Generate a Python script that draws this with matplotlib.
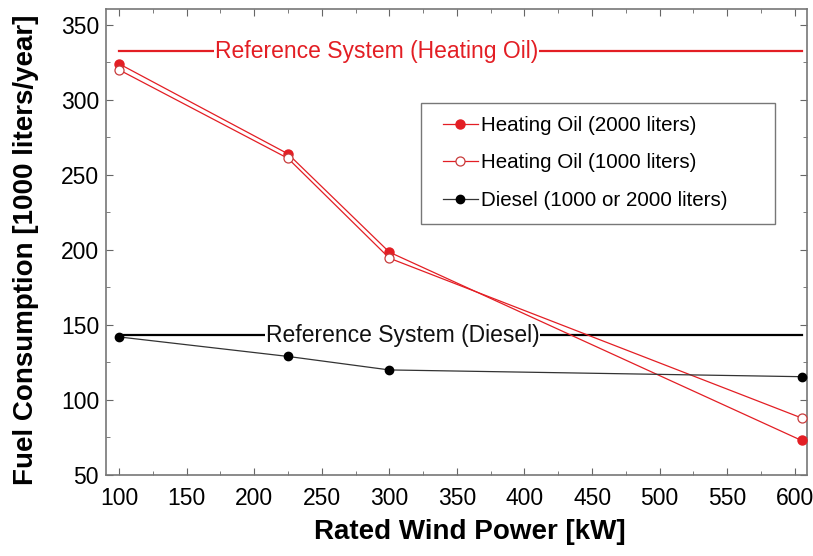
import matplotlib
matplotlib.use("Agg")
import matplotlib.pyplot as plt
from matplotlib.ticker import MultipleLocator
from matplotlib.patches import Rectangle

plt.rcParams['font.family'] = ['Liberation Sans', 'DejaVu Sans']

# data
power = [100, 225, 300, 605]
oil_2000 = [324, 264, 198.5, 73]
oil_1000 = [320, 261, 194.5, 88]
diesel = [142, 129, 120, 115.5]

ref_x = [100, 605]
ref_oil = 332.5
ref_diesel = 143

red = '#e31e24'

fig = plt.figure(figsize=(8.13, 5.56), dpi=100)
ax = fig.add_axes([0.1304, 0.1457, 0.8622, 0.8381])

# reference lines with text sitting on them
ax.plot(ref_x, [ref_oil, ref_oil], color=red, lw=1.6, zorder=2)
ax.plot(ref_x, [ref_diesel, ref_diesel], color='black', lw=1.6, zorder=2)

ax.plot(power, oil_2000, color=red, lw=0.9, marker='o', ms=6.5,
        mfc=red, mec=red, label='Heating Oil (2000 liters)', zorder=3)
ax.plot(power, oil_1000, color=red, lw=0.9, marker='o', ms=6.5,
        mfc='white', mec='#c83c3c', mew=0.9, label='Heating Oil (1000 liters)', zorder=3)
ax.plot(power, diesel, color='#333333', lw=0.9, marker='o', ms=6,
        mfc='black', mec='black', label='Diesel (1000 or 2000 liters)', zorder=3)

ax.text(410, ref_oil, 'Reference System (Heating Oil)', color=red, fontsize=16.5,
        ha='right', va='center', zorder=5,
        bbox=dict(facecolor='white', edgecolor='none', pad=0.5))
ax.text(411, ref_diesel, 'Reference System (Diesel)', color='#111111', fontsize=16.5,
        ha='right', va='center', zorder=5,
        bbox=dict(facecolor='white', edgecolor='none', pad=0.5))

ax.set_xlim(90.4, 609)
ax.set_ylim(50, 360.5)
ax.xaxis.set_major_locator(MultipleLocator(50))
ax.xaxis.set_minor_locator(MultipleLocator(25))
ax.yaxis.set_major_locator(MultipleLocator(50))
ax.yaxis.set_minor_locator(MultipleLocator(25))
ax.tick_params(which='both', direction='in', top=True, right=True, color='#666666')
ax.tick_params(which='major', length=5, labelsize=16.5)
ax.tick_params(axis='x', which='major', pad=9)
ax.tick_params(axis='y', which='major', pad=5)
ax.tick_params(which='minor', length=3)
for s in ax.spines.values():
    s.set_color('#777777')
    s.set_linewidth(1.2)

ax.set_xlabel('Rated Wind Power [kW]', fontsize=20, fontweight='bold')
ax.xaxis.set_label_coords(0.519, -0.095)
ax.set_ylabel('Fuel Consumption [1000 liters/year]', fontsize=20, fontweight='bold')
ax.yaxis.set_label_coords(-0.096, 0.483)

# legend box drawn separately (wider than the entries, like the original)
ax.add_patch(Rectangle((0.450, 0.539), 0.504, 0.260, transform=ax.transAxes,
                       facecolor='white', edgecolor='#777777', lw=1.0, zorder=4))
leg = ax.legend(loc='upper left', bbox_to_anchor=(0.4807, 0.771), fontsize=14.8,
                frameon=False, handlelength=1.7, handletextpad=0.15,
                borderpad=0, labelspacing=0.9, borderaxespad=0)
leg.set_zorder(6)

fig.savefig('out.png', dpi=100)
